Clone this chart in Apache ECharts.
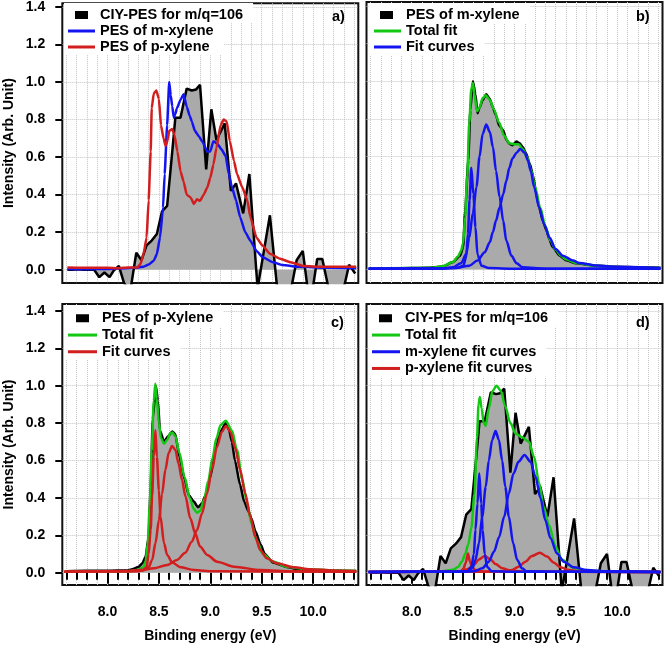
<!DOCTYPE html>
<html>
<head>
<meta charset="utf-8">
<script src="https://cdn.jsdelivr.net/npm/echarts@6/dist/echarts.min.js"></script>
<style>html,body{margin:0;padding:0;background:#fff}#c{width:664px;height:645px}</style>
</head>
<body>
<div id="c"></div>
<script>
// ---------- tick labels ----------
const xTicks = [8.0, 8.5, 9.0, 9.5, 10.0];
const yTicks = [0.0, 0.2, 0.4, 0.6, 0.8, 1.0, 1.2, 1.4];

// ---------- panel a / d : CIY-PES for m/q=106 ----------
const ciyPes = [[7.61,0.0],[7.66,0.0],[7.71,0.002],[7.76,0.0],[7.82,0.0],[7.87,0.0],[7.92,-0.04],[7.97,-0.015],[8.02,-0.04],[8.06,-0.005],[8.11,0.02],[8.16,-0.07],[8.22,-0.12],[8.28,0.09],[8.33,0.05],[8.38,0.13],[8.43,0.155],[8.48,0.19],[8.53,0.31],[8.58,0.34],[8.63,0.63],[8.66,0.81],[8.71,0.81],[8.77,0.965],[8.82,0.955],[8.86,0.96],[8.90,0.985],[8.96,0.535],[9.01,0.855],[9.06,0.69],[9.14,0.78],[9.20,0.42],[9.25,0.46],[9.32,0.30],[9.38,0.51],[9.46,-0.1],[9.58,0.29],[9.66,-0.15],[9.77,-0.15],[9.84,0.05],[9.90,0.10],[9.97,-0.2],[10.04,0.057],[10.09,0.057],[10.17,-0.15],[10.29,-0.12],[10.35,0.026],[10.41,-0.02]];

// panel a : reference spectra
const mXylPesA = [[7.61,0.003],[7.8,0.002],[8.0,0.004],[8.2,0.008],[8.3,0.012],[8.35,0.016],[8.40,0.027],[8.45,0.048],[8.48,0.083],[8.51,0.17],[8.54,0.33],[8.556,0.51],[8.58,0.77],[8.60,1.0],[8.615,0.93],[8.63,0.87],[8.645,0.81],[8.66,0.83],[8.675,0.86],[8.71,0.905],[8.74,0.935],[8.77,0.87],[8.80,0.82],[8.82,0.79],[8.85,0.74],[8.89,0.71],[8.92,0.685],[8.97,0.63],[9.0,0.63],[9.03,0.685],[9.07,0.67],[9.11,0.64],[9.15,0.605],[9.18,0.51],[9.21,0.44],[9.25,0.37],[9.29,0.28],[9.34,0.20],[9.39,0.154],[9.45,0.10],[9.51,0.066],[9.61,0.04],[9.7,0.025],[9.87,0.015],[10.1,0.01],[10.42,0.008]];
const pXylPesA = [[7.61,0.012],[7.8,0.01],[8.0,0.01],[8.1,0.008],[8.2,0.012],[8.29,0.012],[8.32,0.03],[8.35,0.083],[8.38,0.17],[8.40,0.37],[8.42,0.63],[8.43,0.86],[8.45,0.94],[8.475,0.955],[8.50,0.91],[8.52,0.77],[8.545,0.70],[8.565,0.66],[8.585,0.69],[8.60,0.74],[8.63,0.75],[8.65,0.72],[8.68,0.63],[8.71,0.525],[8.74,0.47],[8.77,0.40],[8.81,0.384],[8.84,0.35],[8.87,0.375],[8.90,0.367],[8.935,0.40],[8.97,0.437],[9.0,0.49],[9.03,0.56],[9.06,0.65],[9.10,0.77],[9.13,0.80],[9.16,0.79],[9.19,0.685],[9.23,0.58],[9.26,0.51],[9.31,0.44],[9.36,0.37],[9.39,0.28],[9.45,0.17],[9.51,0.127],[9.58,0.085],[9.68,0.058],[9.78,0.04],[9.9,0.02],[10.1,0.015],[10.42,0.015]];

// ---------- panel b : PES of m-xylene ----------
const mXylPes = [[7.59,0.004],[7.8,0.006],[8.0,0.008],[8.15,0.01],[8.30,0.016],[8.40,0.04],[8.47,0.074],[8.50,0.12],[8.52,0.31],[8.55,0.58],[8.57,0.845],[8.595,1.0],[8.62,0.93],[8.64,0.83],[8.66,0.86],[8.69,0.90],[8.725,0.93],[8.76,0.905],[8.79,0.86],[8.82,0.818],[8.85,0.765],[8.89,0.74],[8.92,0.69],[8.95,0.668],[8.98,0.66],[9.02,0.68],[9.05,0.67],[9.08,0.65],[9.11,0.62],[9.15,0.56],[9.18,0.50],[9.21,0.41],[9.24,0.33],[9.275,0.26],[9.31,0.21],[9.34,0.16],[9.37,0.12],[9.44,0.074],[9.50,0.05],[9.60,0.034],[9.8,0.02],[10.0,0.015],[10.2,0.012],[10.42,0.01]];
const mXylTotal = [[7.58,0.005],[8.2,0.01],[8.3,0.018],[8.4,0.04],[8.45,0.07],[8.48,0.10],[8.50,0.14],[8.52,0.28],[8.54,0.5],[8.56,0.78],[8.58,0.96],[8.595,0.99],[8.61,0.93],[8.635,0.84],[8.66,0.86],[8.69,0.91],[8.72,0.925],[8.76,0.90],[8.80,0.85],[8.85,0.78],[8.90,0.71],[8.95,0.67],[9.0,0.665],[9.04,0.665],[9.08,0.64],[9.12,0.6],[9.16,0.53],[9.2,0.44],[9.25,0.33],[9.3,0.23],[9.35,0.155],[9.4,0.105],[9.45,0.075],[9.5,0.055],[9.6,0.035],[9.8,0.02],[10.0,0.013],[10.42,0.008]];
const mXylFit1 = [[7.58,0.004],[8.3,0.006],[8.45,0.01],[8.50,0.02],[8.53,0.065],[8.547,0.19],[8.563,0.37],[8.58,0.54],[8.60,0.40],[8.62,0.225],[8.64,0.08],[8.68,0.02],[8.75,0.008],[9.0,0.005],[10.42,0.004]];
const mXylFit2 = [[7.58,0.004],[8.3,0.006],[8.40,0.012],[8.48,0.034],[8.53,0.083],[8.56,0.17],[8.595,0.30],[8.63,0.44],[8.66,0.60],[8.69,0.72],[8.725,0.77],[8.76,0.73],[8.79,0.65],[8.82,0.525],[8.855,0.385],[8.89,0.26],[8.92,0.154],[8.97,0.074],[9.02,0.034],[9.08,0.012],[9.3,0.005],[10.42,0.004]];
const mXylFit3 = [[7.58,0.004],[8.2,0.006],[8.43,0.009],[8.56,0.021],[8.64,0.048],[8.71,0.092],[8.76,0.145],[8.79,0.20],[8.82,0.26],[8.855,0.33],[8.89,0.40],[8.92,0.47],[8.95,0.54],[8.98,0.59],[9.02,0.62],[9.055,0.64],[9.10,0.62],[9.13,0.58],[9.16,0.52],[9.19,0.44],[9.24,0.33],[9.29,0.24],[9.34,0.17],[9.40,0.11],[9.47,0.074],[9.57,0.048],[9.63,0.035],[9.8,0.022],[10.0,0.015],[10.42,0.008]];

// ---------- panel c : PES of p-Xylene ----------
const pXylPes = [[7.6,0.008],[7.8,0.01],[8.0,0.01],[8.19,0.012],[8.24,0.018],[8.30,0.03],[8.34,0.05],[8.37,0.085],[8.40,0.19],[8.42,0.46],[8.44,0.82],[8.47,1.0],[8.49,0.92],[8.51,0.76],[8.55,0.70],[8.59,0.73],[8.63,0.755],[8.66,0.74],[8.70,0.62],[8.75,0.50],[8.79,0.415],[8.84,0.38],[8.88,0.35],[8.92,0.37],[8.95,0.41],[9.00,0.51],[9.05,0.66],[9.10,0.755],[9.15,0.80],[9.18,0.77],[9.21,0.70],[9.24,0.60],[9.29,0.47],[9.33,0.38],[9.37,0.33],[9.40,0.29],[9.44,0.22],[9.49,0.15],[9.53,0.10],[9.61,0.055],[9.74,0.03],[9.87,0.018],[10.0,0.012],[10.2,0.01],[10.42,0.008]];
const pXylTotal = [[7.58,0.005],[8.2,0.008],[8.3,0.015],[8.35,0.03],[8.37,0.06],[8.39,0.15],[8.41,0.35],[8.43,0.65],[8.45,0.92],[8.465,1.01],[8.48,0.93],[8.50,0.80],[8.52,0.72],[8.55,0.69],[8.58,0.71],[8.61,0.745],[8.63,0.75],[8.66,0.73],[8.70,0.64],[8.75,0.51],[8.80,0.40],[8.84,0.34],[8.87,0.32],[8.90,0.33],[8.94,0.39],[8.98,0.49],[9.02,0.61],[9.06,0.72],[9.10,0.79],[9.15,0.813],[9.21,0.76],[9.26,0.656],[9.31,0.50],[9.36,0.37],[9.40,0.264],[9.45,0.175],[9.51,0.10],[9.61,0.06],[9.74,0.032],[9.94,0.018],[10.2,0.012],[10.42,0.01]];
const pXylFit1 = [[7.58,0.005],[8.3,0.008],[8.35,0.014],[8.38,0.03],[8.40,0.10],[8.42,0.23],[8.434,0.41],[8.45,0.62],[8.466,0.763],[8.48,0.62],[8.50,0.44],[8.515,0.30],[8.55,0.157],[8.58,0.095],[8.63,0.054],[8.71,0.029],[8.84,0.014],[9.03,0.007],[10.42,0.005]];
const pXylFit2 = [[7.58,0.005],[8.2,0.007],[8.34,0.011],[8.40,0.029],[8.434,0.068],[8.466,0.157],[8.50,0.28],[8.53,0.42],[8.563,0.55],[8.595,0.64],[8.628,0.678],[8.66,0.656],[8.69,0.585],[8.725,0.496],[8.757,0.41],[8.806,0.29],[8.854,0.21],[8.90,0.14],[8.97,0.095],[9.065,0.059],[9.23,0.032],[9.49,0.014],[9.81,0.007],[10.42,0.005]];
const pXylFit3 = [[7.58,0.005],[8.19,0.009],[8.32,0.014],[8.45,0.023],[8.58,0.041],[8.676,0.068],[8.757,0.107],[8.82,0.166],[8.87,0.228],[8.92,0.317],[8.968,0.424],[9.016,0.55],[9.065,0.674],[9.113,0.754],[9.152,0.785],[9.194,0.754],[9.243,0.665],[9.29,0.55],[9.34,0.424],[9.39,0.30],[9.437,0.193],[9.485,0.121],[9.55,0.077],[9.647,0.05],[9.81,0.029],[9.97,0.018],[10.2,0.012],[10.42,0.009]];

// ---------- panel d : CIY-PES fit ----------
const ciyTotal = [[7.58,0.003],[8.3,0.008],[8.40,0.015],[8.45,0.03],[8.49,0.06],[8.52,0.10],[8.55,0.15],[8.58,0.24],[8.61,0.42],[8.635,0.72],[8.65,0.9],[8.663,0.94],[8.68,0.88],[8.70,0.80],[8.72,0.785],[8.75,0.88],[8.785,0.97],[8.825,1.0],[8.865,0.975],[8.91,0.89],[8.96,0.80],[9.01,0.745],[9.07,0.725],[9.14,0.70],[9.19,0.62],[9.24,0.48],[9.285,0.35],[9.335,0.255],[9.40,0.14],[9.46,0.07],[9.58,0.025],[9.7,0.01],[10.0,0.005],[10.42,0.004]];
const ciyMFit1 = [[7.58,0.004],[8.4,0.005],[8.54,0.007],[8.58,0.03],[8.605,0.10],[8.62,0.23],[8.64,0.37],[8.657,0.53],[8.676,0.37],[8.69,0.23],[8.71,0.10],[8.735,0.03],[8.78,0.007],[9.0,0.005],[10.42,0.004]];
const ciyMFit2 = [[7.58,0.004],[8.4,0.005],[8.54,0.007],[8.59,0.023],[8.62,0.068],[8.654,0.157],[8.686,0.30],[8.72,0.46],[8.75,0.60],[8.783,0.71],[8.816,0.758],[8.848,0.71],[8.88,0.60],[8.91,0.46],[8.945,0.30],[8.987,0.157],[9.026,0.068],[9.074,0.023],[9.12,0.007],[9.4,0.005],[10.42,0.004]];
const ciyMFit3 = [[7.58,0.004],[8.4,0.005],[8.605,0.008],[8.686,0.023],[8.75,0.059],[8.80,0.112],[8.85,0.19],[8.90,0.30],[8.945,0.424],[8.99,0.53],[9.04,0.594],[9.097,0.63],[9.155,0.594],[9.204,0.514],[9.252,0.40],[9.30,0.28],[9.35,0.184],[9.414,0.103],[9.48,0.059],[9.576,0.029],[9.705,0.014],[9.9,0.007],[10.42,0.004]];
const ciyPFit1 = [[7.58,0.004],[8.4,0.005],[8.476,0.007],[8.50,0.018],[8.524,0.05],[8.547,0.103],[8.566,0.059],[8.59,0.029],[8.62,0.014],[8.70,0.006],[10.42,0.004]];
const ciyPFit2 = [[7.58,0.004],[8.3,0.005],[8.476,0.007],[8.54,0.018],[8.605,0.041],[8.654,0.071],[8.71,0.089],[8.767,0.071],[8.816,0.046],[8.88,0.023],[8.96,0.011],[9.12,0.005],[10.42,0.004]];
const ciyPFit3 = [[7.58,0.004],[8.6,0.005],[8.90,0.006],[8.977,0.014],[9.04,0.032],[9.107,0.059],[9.17,0.089],[9.246,0.107],[9.317,0.086],[9.38,0.054],[9.447,0.029],[9.53,0.014],[9.64,0.006],[10.42,0.004]];

// ---------- styling ----------
const FONT = 'Liberation Sans, Arial, Helvetica, sans-serif';
const BLACK = '#000000', GRAY = '#aaaaaa', BLUE = '#1414f0', RED = '#d21e1e', GREEN = '#12c812';
const gridLine = {show: true, lineStyle: {color: '#c4c4c4', type: 'dotted', width: 1}};
const labelText = {color: '#000', fontSize: 14, fontWeight: 'bold', fontFamily: FONT};

const names = {
  ciy: 'CIY-PES for m/q=106', mA: 'PES of m-xylene', pA: 'PES of p-xylene',
  mPes: 'PES of m-xylene', mTot: 'Total fit', mFit: 'Fit curves',
  pPes: 'PES of p-Xylene', pTot: 'Total fit', pFit: 'Fit curves',
  dTot: 'Total fit', dM: 'm-xylene fit curves', dP: 'p-xylene fit curves'
};

const grids = [
  {left: 62.3, top: 2, width: 296, height: 281},
  {left: 366.5, top: 2, width: 296, height: 281},
  {left: 62.3, top: 304, width: 296, height: 281},
  {left: 366.5, top: 304, width: 296, height: 281}
].map(g => Object.assign({show: true, borderColor: '#111', borderWidth: 2, backgroundColor: 'transparent', containLabel: false}, g));

function makeX(gi, show) {
  return {
    type: 'value', gridIndex: gi, min: 7.56, max: 10.44, splitNumber: 5,
    axisLine: {show: false},
    axisTick: {show: show, customValues: xTicks, length: 11, lineStyle: {color: '#000', width: 2}},
    minorTick: {show: show, splitNumber: 5, length: 7, lineStyle: {color: '#000', width: 2}},
    axisLabel: Object.assign({show: show, customValues: xTicks, margin: 20, formatter: v => v.toFixed(1)}, labelText),
    splitLine: gridLine, minorSplitLine: gridLine,
    name: show ? 'Binding energy (eV)' : '', nameLocation: 'middle', nameGap: 44,
    nameTextStyle: labelText
  };
}
function makeY(gi, show, min, max) {
  return {
    type: 'value', gridIndex: gi, min: min, max: max, splitNumber: 7,
    axisLine: {show: false},
    axisTick: {show: show, customValues: yTicks, length: 7, lineStyle: {color: '#000', width: 2}},
    axisLabel: Object.assign({show: show, customValues: yTicks, margin: 17, formatter: v => v.toFixed(1)}, labelText),
    splitLine: gridLine,
    name: show ? 'Intensity (Arb. Unit)' : '', nameLocation: 'middle', nameGap: 46, nameRotate: 90,
    nameTextStyle: labelText
  };
}

function line(name, data, gi, color, opt) {
  return Object.assign({
    type: 'line', name: name, data: data, xAxisIndex: gi, yAxisIndex: gi,
    color: color, symbol: 'none', showSymbol: false, clip: true,
    lineStyle: {color: color, width: 2.5}, smooth: 0.3, smoothMonotone: 'x'
  }, opt || {});
}
function filled(name, data, gi, smooth) {
  return line(name, data, gi, BLACK, {
    smooth: smooth, areaStyle: {color: GRAY, opacity: 1}, lineStyle: {color: BLACK, width: 2.5}
  });
}

const series = [
  // a
  filled('ciy', ciyPes, 0, false),
  line('mA', mXylPesA, 0, BLUE, {smooth: 0.15}),
  line('pA', pXylPesA, 0, RED, {smooth: 0.15}),
  // b
  filled('mPes', mXylPes, 1, 0.2),
  line('mTot', mXylTotal, 1, GREEN),
  line('mFit', mXylFit1, 1, BLUE),
  line('mFit', mXylFit2, 1, BLUE),
  line('mFit', mXylFit3, 1, BLUE),
  // c
  filled('pPes', pXylPes, 2, 0.2),
  line('pTot', pXylTotal, 2, GREEN),
  line('pFit', pXylFit1, 2, RED),
  line('pFit', pXylFit2, 2, RED),
  line('pFit', pXylFit3, 2, RED),
  // d
  filled('ciy', ciyPes, 3, false),
  line('dTot', ciyTotal, 3, GREEN),
  line('dP', ciyPFit1, 3, RED),
  line('dP', ciyPFit2, 3, RED),
  line('dP', ciyPFit3, 3, RED),
  line('dM', ciyMFit1, 3, BLUE),
  line('dM', ciyMFit2, 3, BLUE),
  line('dM', ciyMFit3, 3, BLUE)
];

function legendBox(names_, left, top, pad, iconW, rowH, square) {
  return {
    orient: 'vertical', left: left, top: top, padding: pad, itemGap: 0,
    itemWidth: iconW, itemHeight: square ? 8 : 3, selectedMode: false,
    backgroundColor: '#ffffff', borderWidth: 0,
    itemStyle: {borderWidth: 0},
    data: names_.map(n => ({name: n, icon: square ? ('path://M0,0h13v8h-13zM' + iconW + ',8h0z') : 'rect'})),
    formatter: n => names[n],
    textStyle: {color: '#000', fontSize: 14.5, fontWeight: 'bold', fontFamily: FONT, lineHeight: rowH}
  };
}

const legends = [
  legendBox(['ciy'], 64, 3, [4, 10, 0, 11], 20, 16, true),
  legendBox(['mA', 'pA'], 64, 23, [0, 10, 0, 4], 27, 16, false),
  legendBox(['mPes'], 369, 3, [4, 10, 0, 11], 21, 16, true),
  legendBox(['mTot', 'mFit'], 369, 23, [0, 10, 0, 5], 27, 16, false),
  legendBox(['pPes'], 64, 305, [5, 10, 0, 12], 21, 16.7, true),
  legendBox(['pTot', 'pFit'], 64, 326.7, [0, 10, 0, 4], 29, 16.7, false),
  legendBox(['ciy'], 369, 305, [5, 10, 0, 10], 21, 16.7, true),
  legendBox(['dTot', 'dM', 'dP'], 369, 326.7, [0, 10, 0, 3], 28, 16.7, false)
];

function panelLabel(t, left, top) {
  return {text: t, left: left, top: top, padding: 0,
    textStyle: {color: '#000', fontSize: 14.5, fontWeight: 'bold', fontFamily: FONT, lineHeight: 16}};
}

const chart = echarts.init(document.getElementById('c'), null, {renderer: 'canvas'});
chart.setOption({
  backgroundColor: '#ffffff',
  animation: false,
  title: [panelLabel('a)', 332, 8.7), panelLabel('b)', 636, 8.7), panelLabel('c)', 331, 315.3), panelLabel('d)', 636, 315.3)],
  legend: legends,
  grid: grids,
  xAxis: [makeX(0, false), makeX(1, false), makeX(2, true), makeX(3, true)],
  yAxis: [makeY(0, true, -0.071, 1.42), makeY(1, false, -0.071, 1.42), makeY(2, true, -0.066, 1.437), makeY(3, false, -0.066, 1.437)],
  series: series
});
</script>
</body>
</html>
